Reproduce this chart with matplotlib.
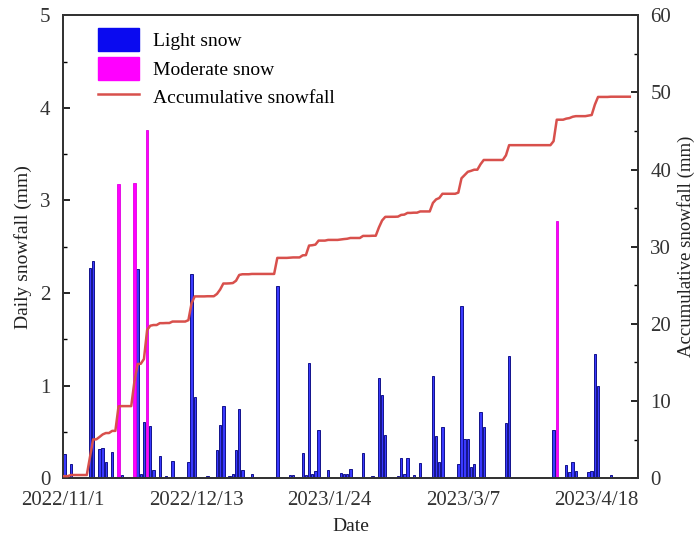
import numpy as np
import pandas as pd
import matplotlib
matplotlib.use("Agg")
import matplotlib.pyplot as plt
from matplotlib.patches import Patch
from matplotlib.lines import Line2D
from matplotlib.ticker import MultipleLocator

plt.rcParams['font.family'] = ['Liberation Serif', 'DejaVu Serif']

start = pd.Timestamp("2022-11-01")

# Light snow days (day offset from 2022-11-01) and daily amounts (mm)
light_days = [0, 2, 8, 9, 11, 12, 13, 15, 18, 23, 24, 25, 27, 28, 30, 32, 34,
              39, 40, 41, 45, 48, 49, 50, 52, 53, 54, 55, 56, 59, 67, 71, 72,
              75, 76, 77, 78, 79, 80, 83, 87, 88, 89, 90, 94, 97, 99, 100, 101,
              103, 105, 106, 107, 108, 110, 112, 116, 117, 118, 119, 124, 125,
              126, 127, 128, 129, 131, 132, 139, 140, 154, 158, 159, 160, 161,
              165, 166, 167, 168, 172]
light_mm = [0.26, 0.15, 2.27, 2.35, 0.31, 0.33, 0.18, 0.28, 0.03, 2.26, 0.04,
            0.61, 0.56, 0.09, 0.24, 0.02, 0.19, 0.18, 2.20, 0.88, 0.02, 0.30,
            0.57, 0.78, 0.02, 0.04, 0.30, 0.75, 0.09, 0.04, 2.08, 0.03, 0.03,
            0.27, 0.03, 1.24, 0.04, 0.08, 0.52, 0.09, 0.06, 0.05, 0.04, 0.10,
            0.27, 0.02, 1.08, 0.90, 0.47, 0.01, 0.02, 0.22, 0.04, 0.22, 0.03,
            0.16, 1.10, 0.46, 0.18, 0.55, 0.15, 1.86, 0.42, 0.42, 0.12, 0.15,
            0.71, 0.55, 0.60, 1.32, 0.52, 0.14, 0.07, 0.17, 0.08, 0.07, 0.08,
            1.34, 1.00, 0.03]

# Moderate snow days and amounts (mm)
moderate_days = [17, 22, 26, 155]
moderate_mm = [3.18, 3.19, 3.76, 2.78]

n_days = 179  # 2022-11-01 .. 2023-04-28

daily = np.zeros(n_days)
for d, v in zip(light_days, light_mm):
    daily[d] += v
for d, v in zip(moderate_days, moderate_mm):
    daily[d] += v
accum = np.cumsum(daily)

half = pd.Timedelta(hours=12)
light_dates = [start + pd.Timedelta(days=d) + half for d in light_days]
moderate_dates = [start + pd.Timedelta(days=d) + half for d in moderate_days]
all_dates = [start + pd.Timedelta(days=d) + half for d in range(n_days)]
all_dates[0] = start

fig = plt.figure(figsize=(6.95, 5.44), dpi=100)
ax = fig.add_axes([0.0906, 0.121, 0.827, 0.851])
ax2 = ax.twinx()

ax.bar(light_dates, light_mm, width=0.75, color='#3a3aff',
       edgecolor='#12128c', linewidth=0.7, zorder=2)
ax.bar(moderate_dates, moderate_mm, width=0.75, color='#ff00ff',
       edgecolor='#e000e0', linewidth=0.6, zorder=2)
ax2.plot(all_dates, accum, color='#d8504c', linewidth=1.8, zorder=3)

ax.set_xlim(start, pd.Timestamp("2023-05-01"))
ax.set_ylim(0, 5)
ax2.set_ylim(0, 60)

tick_dates = [start + pd.Timedelta(days=42 * k) for k in range(5)]
ax.set_xticks(tick_dates)
ax.set_xticklabels([f"{t.year}/{t.month}/{t.day}" for t in tick_dates])

ax.yaxis.set_major_locator(MultipleLocator(1))
ax.yaxis.set_minor_locator(MultipleLocator(0.5))
ax2.yaxis.set_major_locator(MultipleLocator(10))
ax2.yaxis.set_minor_locator(MultipleLocator(5))

label_color = '#333333'
for a in (ax, ax2):
    a.tick_params(axis='both', which='major', direction='in', length=5,
                  width=1.2, labelsize=15, labelcolor=label_color, pad=7)
    a.tick_params(axis='both', which='minor', direction='in', length=3,
                  width=1.0)
    for s in a.spines.values():
        s.set_linewidth(1.3)
        s.set_color('#333333')
ax.tick_params(axis='x', which='major', length=0, pad=9)
ax.tick_params(axis='y', which='major', pad=9)
ax2.tick_params(axis='y', which='major', pad=9)

ax.set_xlabel("Date", fontsize=14, color='#222222', labelpad=6)
ax.set_ylabel("Daily snowfall (mm)", fontsize=14, color='#222222', labelpad=6)
ax2.set_ylabel("Accumulative snowfall (mm)", fontsize=13.5, color='#222222',
               rotation=90, labelpad=4)

handles = [Patch(facecolor='#0a0af0', edgecolor='#0a0af0'),
           Patch(facecolor='#ff00ff', edgecolor='#ff00ff'),
           Line2D([0], [0], color='#d8504c', linewidth=1.8)]
labels = ["Light snow", "Moderate snow", "Accumulative snowfall"]
ax.legend(handles, labels, loc='upper left', bbox_to_anchor=(0.03, 1.01),
          frameon=False, fontsize=14, handlelength=2.1, handleheight=1.45,
          handletextpad=0.75, labelspacing=0.28)

fig.savefig("out.png", dpi=100)
